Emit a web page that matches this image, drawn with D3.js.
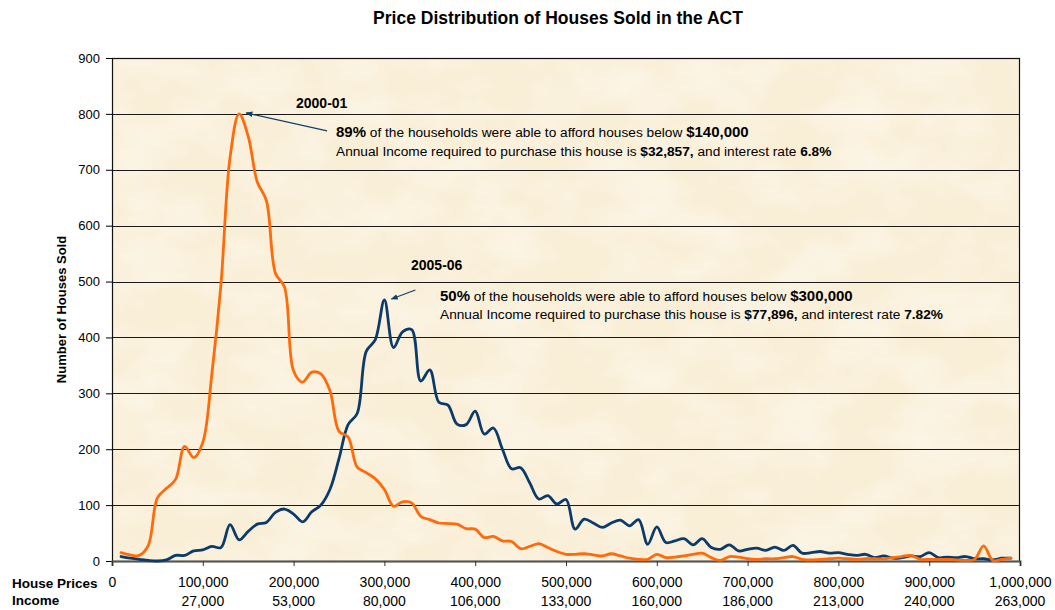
<!DOCTYPE html>
<html>
<head>
<meta charset="utf-8">
<script src="https://cdn.jsdelivr.net/npm/d3@7"></script>
<style>
  body { margin: 0; background: #fff; }
  svg { display: block; font-family: "Liberation Sans", Arial, sans-serif; }
</style>
</head>
<body>
<div id="chart"></div>
<script>
'use strict'

// house price bins, 10,000 wide (10k .. 990k)
var prices = d3.range(10000, 1000000, 10000);

// number of houses sold per price bin
var sold2000 = [15,11,10,28,113,130,146,205,185,212,
                335,495,722,800,760,678,645,515,490,340,
                320,338,335,305,232,222,168,158,147,128,
                98,106,104,80,74,68,67,66,58,57,
                42,44,36,35,22,26,31,24,17,12,
                12,13,11,9,13,9,5,3,3,12,
                6,7,9,12,14,6,1,8,7,4,
                3,4,4,6,8,3,2,3,4,5,
                4,3,4,4,4,6,8,10,3,3,
                3,3,2,1,3,27,1,3,5];
var sold2005 = [8,5,3,1,0,2,10,10,18,20,
                26,24,65,38,53,66,69,87,93,84,
                70,88,100,128,183,244,264,375,396,467,
                382,410,414,322,342,284,279,245,244,268,
                227,238,200,165,167,140,111,117,102,110,
                57,75,68,60,68,73,63,74,30,61,
                33,36,40,29,40,24,21,29,18,21,
                23,19,25,19,28,14,15,17,14,15,
                12,10,12,6,9,5,6,9,8,15,
                6,7,6,8,4,4,2,5,5];

// axis labels
var priceTicks = d3.range(0, 1000001, 100000);
var incomeLabels = ["", "27,000", "53,000", "80,000", "106,000", "133,000",
                    "160,000", "186,000", "213,000", "240,000", "263,000"];
var yTicks = d3.range(0, 901, 100);

// annotation texts
var note2000 = [
  [["89%", true], [" of the households were able to afford houses below ", false], ["$140,000", true]],
  [["Annual Income required to purchase this house is ", false], ["$32,857,", true], [" and interest rate ", false], ["6.8%", true]]
];
var note2005 = [
  [["50%", true], [" of the households were able to afford houses below ", false], ["$300,000", true]],
  [["Annual Income required to purchase this house is ", false], ["$77,896,", true], [" and interest rate ", false], ["7.82%", true]]
];

var W = 1055, H = 610;
var margin = {top: 58, right: 35, bottom: 49, left: 112};
var width = W - margin.left - margin.right;
var height = H - margin.top - margin.bottom;

var svg = d3.select("#chart").append("svg")
    .attr("width", W)
    .attr("height", H);

// parchment texture for the plot area
var defs = svg.append("defs");
var filt = defs.append("filter").attr("id", "parch")
    .attr("x", 0).attr("y", 0).attr("width", "100%").attr("height", "100%");
filt.append("feTurbulence").attr("type", "fractalNoise")
    .attr("baseFrequency", "0.014 0.022").attr("numOctaves", 4).attr("seed", 7);
filt.append("feColorMatrix").attr("type", "matrix")
    .attr("values", "0 0 0 0 1  0 0 0 0 0.99  0 0 0 0 0.95  0.9 0 0 0 -0.3");

defs.append("marker").attr("id", "arrow")
    .attr("viewBox", "0 0 10 10").attr("refX", 9).attr("refY", 5)
    .attr("markerWidth", 7).attr("markerHeight", 7)
    .attr("markerUnits", "userSpaceOnUse")
    .attr("orient", "auto")
  .append("path").attr("d", "M0,1 L10,5 L0,9 z").attr("fill", "#123d6b");

var g = svg.append("g")
    .attr("transform", "translate(" + margin.left + "," + margin.top + ")");

var x = d3.scaleLinear().domain([0, 1000000]).range([0, width]);
var y = d3.scaleLinear().domain([0, 900]).range([height, 0]);

g.append("rect").attr("width", width).attr("height", height).attr("fill", "#f9eed6");
g.append("rect").attr("width", width).attr("height", height).attr("filter", "url(#parch)");

// gridlines
g.append("g").selectAll("line")
    .data(yTicks.filter(function(d){ return d > 0 && d < 900; }))
  .enter().append("line")
    .attr("x1", 0).attr("x2", width)
    .attr("y1", function(d){ return Math.round(y(d)) + 0.5; })
    .attr("y2", function(d){ return Math.round(y(d)) + 0.5; })
    .attr("stroke", "#1a1a1a").attr("stroke-width", 1);

// frame
g.append("rect").attr("x", 0.5).attr("y", 0.5)
    .attr("width", width - 1).attr("height", height)
    .attr("fill", "none").attr("stroke", "#111").attr("stroke-width", 1.2);

// y axis
var yAxis = g.append("g")
    .call(d3.axisLeft(y).tickValues(yTicks).tickSize(6).tickPadding(6));
yAxis.select(".domain").attr("stroke", "#111");
yAxis.selectAll("text").attr("font-size", 13).attr("fill", "#000")
    .style("font-family", "'Liberation Sans', Arial, sans-serif");

// x axis with house price labels
var xAxis = g.append("g")
    .attr("transform", "translate(0," + height + ")")
    .call(d3.axisBottom(x).tickValues(priceTicks).tickSize(5).tickPadding(11)
          .tickFormat(d3.format(",")));
xAxis.select(".domain").attr("stroke", "#555").attr("stroke-width", 2);
xAxis.selectAll(".tick line").attr("stroke", "#333");
xAxis.selectAll("text").attr("font-size", 14).attr("fill", "#000")
    .style("font-family", "'Liberation Sans', Arial, sans-serif");

// income row
g.append("g").selectAll("text")
    .data(priceTicks)
  .enter().append("text")
    .attr("x", function(d){ return x(d); })
    .attr("y", height + 45)
    .attr("text-anchor", "middle")
    .attr("font-size", 14)
    .text(function(d, i){ return incomeLabels[i]; });

svg.append("text").attr("x", 12).attr("y", 588)
    .attr("font-size", 13.5).attr("font-weight", "bold").text("House Prices");
svg.append("text").attr("x", 12).attr("y", 605)
    .attr("font-size", 13.5).attr("font-weight", "bold").text("Income");

// title + y label
svg.append("text").attr("x", 558).attr("y", 24)
    .attr("text-anchor", "middle").attr("font-size", 17.5).attr("font-weight", "bold")
    .text("Price Distribution of Houses Sold in the ACT");
svg.append("text")
    .attr("transform", "translate(66," + (margin.top + height / 2) + ") rotate(-90)")
    .attr("text-anchor", "middle").attr("font-size", 13).attr("font-weight", "bold")
    .text("Number of Houses Sold");

// series
var line = d3.line()
    .x(function(d){ return x(d[0]); })
    .y(function(d){ return y(d[1]); })
    .curve(d3.curveCatmullRom.alpha(0.5));

g.append("path")
    .datum(d3.zip(prices, sold2005))
    .attr("d", line)
    .attr("fill", "none").attr("stroke", "#0b3a6b")
    .attr("stroke-width", 2.8).attr("stroke-linejoin", "round").attr("stroke-linecap", "round");

g.append("path")
    .datum(d3.zip(prices, sold2000))
    .attr("d", line)
    .attr("fill", "none").attr("stroke", "#ff6a0a")
    .attr("stroke-width", 2.8).attr("stroke-linejoin", "round").attr("stroke-linecap", "round");

// annotations
function note(title, tx, ty, lines, lx, ly, dy){
  svg.append("text").attr("x", tx).attr("y", ty)
      .attr("font-size", 14).attr("font-weight", "bold").text(title);
  lines.forEach(function(parts, i){
    var t = svg.append("text").attr("x", lx).attr("y", ly + i * dy).attr("font-size", 13.7);
    parts.forEach(function(p){
      t.append("tspan")
        .attr("font-weight", p[1] ? "bold" : "normal")
        .attr("font-size", p[1] && i === 0 ? 15 : 13.7)
        .text(p[0]);
    });
  });
}

function arrow(price, count, dx, dy){
  var px = margin.left + x(price), py = margin.top + y(count);
  svg.append("line")
      .attr("x1", px + dx).attr("y1", py + dy)
      .attr("x2", px + 7).attr("y2", py - 1)
      .attr("stroke", "#123d6b").attr("stroke-width", 1.2)
      .attr("marker-end", "url(#arrow)");
}

note("2000-01", 296, 108, note2000, 336, 137, 19);
note("2005-06", 411, 270, note2005, 440, 301, 18);
arrow(140000, 800, 88, 17);
arrow(300000, 467, 31, -10);
</script>
</body>
</html>
